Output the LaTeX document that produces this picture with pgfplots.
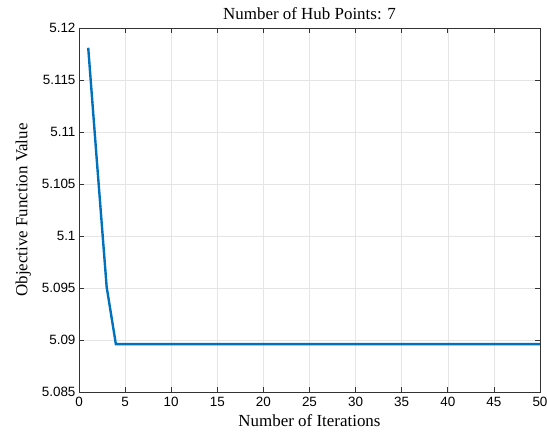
\documentclass[border=0pt]{standalone}
\usepackage{fontspec}
\setmainfont{Liberation Serif}
\newfontfamily\arialf{Liberation Sans}
\usepackage{pgfplots}
\pgfplotsset{compat=1.18}
\definecolor{mblue}{RGB}{0,114,189}
\begin{document}
\begin{tikzpicture}
\useasboundingbox (-79bp,-46bp) rectangle (468bp,392bp);
\begin{axis}[
  scale only axis,
  width=461bp, height=364bp,
  xmin=0, xmax=50, ymin=5.085, ymax=5.12,
  xtick={0,5,...,50},
  ytick={5.085,5.09,5.095,5.1,5.105,5.11,5.115,5.12},
  yticklabels={5.085,5.09,5.095,5.1,5.105,5.11,5.115,5.12},
  xticklabel style={font=\arialf\fontsize{13.5}{13.5}\selectfont, yshift=-2bp},
  yticklabel style={font=\arialf\fontsize{13.5}{13.5}\selectfont},
  /pgf/number format/assume math mode=true,
  grid=major,
  major grid style={gray!20, line width=0.6pt},
  axis line style={black!80, line width=0.7pt},
  tick style={black!80, line width=0.7pt},
  tick align=inside,
  major tick length=5bp,
  title={Number of Hub Points: 7},
  title style={font=\fontsize{17}{17}\selectfont, yshift=-1bp},
  xlabel={Number of Iterations},
  ylabel={Objective Function Value},
  label style={font=\fontsize{17}{17}\selectfont},
  xlabel style={yshift=-1bp},
  ylabel style={yshift=4bp},
]
\addplot[mblue, line width=2.4pt] coordinates {
(1,5.1181) (2,5.1065) (3,5.0951) (4,5.0896) (5,5.0896) (10,5.0896) (20,5.0896) (30,5.0896) (40,5.0896) (50,5.0896)
};
\end{axis}
\end{tikzpicture}
\end{document}
